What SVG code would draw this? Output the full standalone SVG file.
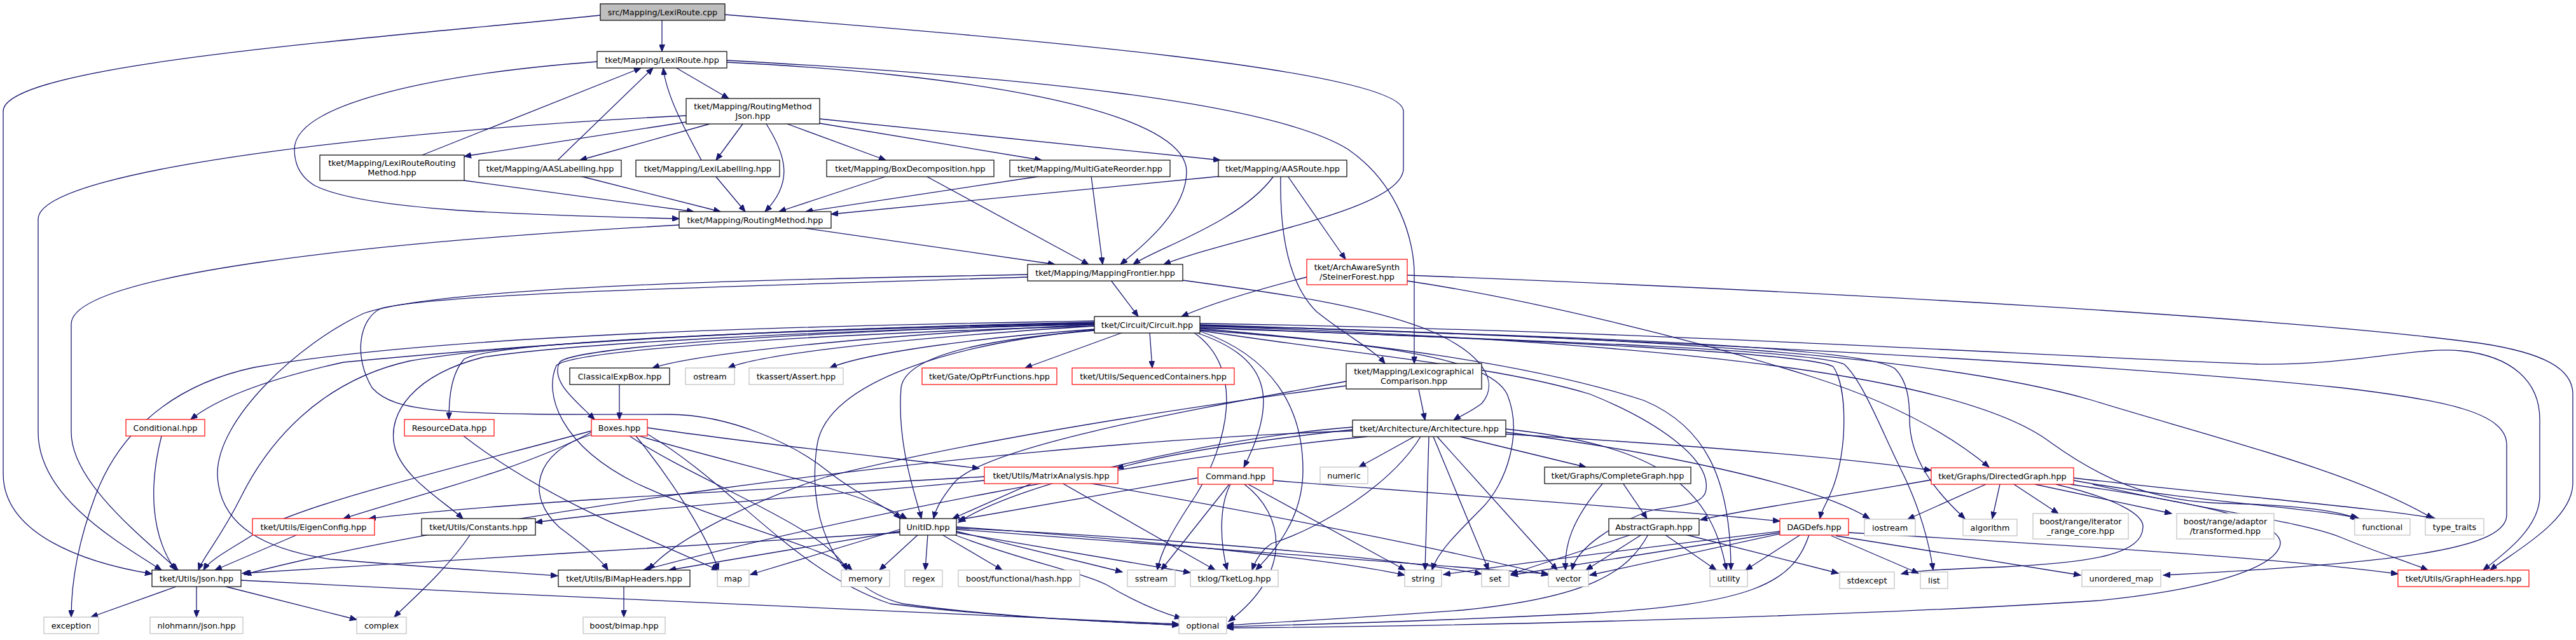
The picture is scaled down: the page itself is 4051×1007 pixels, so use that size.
<svg xmlns="http://www.w3.org/2000/svg" width="4051" height="1007" viewBox="0 0 4051 1007">
<style>
.n rect{fill:#fff;stroke:#000;stroke-width:1.2}
.n.g rect{stroke:#bfbfbf}
.n.r rect{stroke:#f00}
.n.root rect{fill:#bfbfbf}
text{font-family:"DejaVu Sans","Liberation Sans",sans-serif;font-size:12.8px;text-anchor:middle;fill:#000}
#edges path{fill:none;stroke:#191970;stroke-width:1.3;marker-end:url(#a)}
</style>
<defs>
<marker id="a" markerWidth="12" markerHeight="9" refX="11" refY="4.5" orient="auto" markerUnits="userSpaceOnUse"><path d="M0,0 L11,4.5 L0,9 z" fill="#191970" stroke="#191970" stroke-width="1"/></marker>
</defs>
<rect width="4051" height="1007" fill="#fff"/>
<g id="edges">
<path d="M1041,32 L1041,81"/>
<path d="M944,24 C600,60 5,100 5,175 L5,745 C5,840 130,885 239,903"/>
<path d="M1140,23 C1600,60 2207,110 2207,175 L2207,265 C2207,330 1950,370 1830,416"/>
<path d="M1062,106 L1146,155"/>
<path d="M939,97 C700,115 463,160 463,235 C463,262 475,280 495,292 C570,330 800,338 1068,344"/>
<path d="M1143,98 C1500,115 1866,170 1866,270 C1866,330 1800,385 1762,416"/>
<path d="M1143,95 C1600,120 2000,160 2120,235 C2200,290 2224,380 2224,430 L2224,572"/>
<path d="M664,244 L1008,107"/>
<path d="M877,252 L1027,107"/>
<path d="M1103,252 C1075,200 1048,150 1043,107"/>
<path d="M1079,182 C700,200 60,260 60,345 L60,680 C60,780 180,850 254,897"/>
<path d="M1079,192 L730,246"/>
<path d="M1116,195 L912,252"/>
<path d="M1168,195 L1126,252"/>
<path d="M1205,195 C1240,250 1245,290 1203,333"/>
<path d="M1238,195 L1393,252"/>
<path d="M1289,194 L1638,252"/>
<path d="M1289,187 L1919,252"/>
<path d="M730,284 L1091,333"/>
<path d="M912,277 L1133,333"/>
<path d="M1125,277 L1172,333"/>
<path d="M1395,277 L1225,333"/>
<path d="M1638,277 L1267,333"/>
<path d="M1922,277 L1307,337"/>
<path d="M1266,359 L1659,416"/>
<path d="M1456,277 L1712,416"/>
<path d="M1716,277 L1734,416"/>
<path d="M2003,277 C1950,350 1820,390 1782,416"/>
<path d="M2025,277 L2116,408"/>
<path d="M2014,277 C2012,380 2030,450 2070,490 C2120,530 2160,550 2178,572"/>
<path d="M1068,354 C600,380 112,430 112,510 L112,680 C112,760 230,850 280,897"/>
<path d="M1747,441 L1790,498"/>
<path d="M1860,441 C2000,460 2150,480 2248,520 C2330,555 2360,600 2330,635 C2310,650 2295,655 2286,661"/>
<path d="M1616,432 C1200,440 700,450 572,493 C470,540 340,660 342,747 C345,830 420,865 520,880 C700,895 800,900 877,906"/>
<path d="M1616,436 C1200,450 700,460 600,485 C565,500 555,560 585,610 C620,650 700,653 1050,652 C1150,652 1250,700 1300,740 C1350,780 1400,800 1416,816"/>
<path d="M2055,436 C1960,460 1900,480 1858,498"/>
<path d="M2213,433 C2900,460 3600,500 3900,540 C4000,555 4046,580 4046,620 L4046,760 C4046,820 3950,870 3916,897"/>
<path d="M2213,442 C2400,470 2650,530 2850,593 C2950,625 3050,670 3128,735"/>
<path d="M2231,613 L2241,661"/>
<path d="M2117,600 C1900,640 1550,700 1500,760 C1480,785 1472,800 1468,816"/>
<path d="M2117,607 C1800,650 1500,700 1300,750 C1150,800 1050,860 1020,897"/>
<path d="M1721,511 C1400,525 1100,555 1026,579"/>
<path d="M1721,513 C1450,530 1200,555 1145,579"/>
<path d="M1721,518 C1550,530 1360,555 1305,579"/>
<path d="M1766,523 L1612,579"/>
<path d="M1808,523 L1812,579"/>
<path d="M1721,509 C1300,518 780,535 730,565 C708,590 706,630 706,660"/>
<path d="M1721,510 C1300,520 900,545 880,570 C865,600 905,630 935,660"/>
<path d="M1721,507 C1200,518 850,540 540,570 C450,590 350,620 300,660"/>
<path d="M1721,505 C1300,512 700,525 400,578 C250,610 180,700 150,780 C120,860 112,920 112,971"/>
<path d="M1721,508 C1200,518 800,540 644,568 C500,600 420,700 380,780 C345,850 320,875 312,897"/>
<path d="M1721,510 C1300,520 900,540 760,562 C650,590 610,650 620,700 C630,750 700,790 728,816"/>
<path d="M1721,520 C1600,530 1425,550 1417,610 C1410,700 1440,780 1449,816"/>
<path d="M1721,519 C1500,540 1300,600 1285,700 C1270,800 1300,920 1420,950 C1600,975 1800,980 1854,984"/>
<path d="M1721,513 C1300,525 900,550 875,575 C855,620 880,700 1000,760 C1150,830 1300,860 1340,897"/>
<path d="M1880,523 C1990,560 2015,620 1956,735"/>
<path d="M1877,523 C1960,580 1930,700 1880,780 C1840,840 1825,870 1820,897"/>
<path d="M1887,521 C2000,560 2049,640 2049,740 C2049,820 2000,870 1975,897"/>
<path d="M1887,519 C2150,540 2340,560 2370,620 C2395,680 2370,760 2330,800 C2290,840 2260,870 2252,897"/>
<path d="M1887,517 C2150,540 2400,570 2585,630 C2680,670 2722,750 2722,897"/>
<path d="M1887,520 C2150,560 2350,575 2500,620 C2600,660 2690,720 2683,770 C2680,800 2620,795 2590,805 C2540,825 2480,860 2472,897"/>
<path d="M1887,515 C2400,535 2850,555 2883,577 C2905,610 2905,700 2885,760 C2875,790 2865,800 2862,816"/>
<path d="M1887,516 C2400,535 2850,550 2900,573 C2930,600 2960,680 2990,740 C3020,800 3035,860 3040,897"/>
<path d="M1887,512 C2500,530 2930,545 2980,580 C3000,600 3003,630 3003,660 C3003,720 3040,770 3090,816"/>
<path d="M1887,509 C2600,520 3200,560 3551,573 C3700,575 3800,545 3870,552 C3950,560 3994,600 3994,660 L3994,780 C3994,830 3940,870 3905,897"/>
<path d="M1887,511 C2500,530 3300,570 3681,610 C3850,630 3942,650 3942,700 L3942,810 C3942,860 3800,885 3402,905"/>
<path d="M1887,512 C2600,530 3050,560 3291,630 C3450,680 3700,740 3826,816"/>
<path d="M1887,513 C2700,540 3100,600 3226,697 C3300,750 3380,790 3500,792 C3620,795 3680,805 3707,816"/>
<path d="M930,680 C820,740 650,780 540,816"/>
<path d="M930,678 C700,740 450,800 400,840 C370,860 330,880 320,897"/>
<path d="M930,684 C840,710 825,780 880,830 C920,860 945,880 956,897"/>
<path d="M1018,673 C1200,700 1400,720 1540,737"/>
<path d="M1005,686 C1150,730 1350,770 1426,816"/>
<path d="M990,686 C1100,760 1300,830 1332,897"/>
<path d="M1000,686 C1060,760 1110,840 1130,897"/>
<path d="M1018,683 C1150,760 1250,900 1400,950 C1600,975 1800,980 1854,984"/>
<path d="M974,605 L974,660"/>
<path d="M254,686 C235,760 235,840 276,897"/>
<path d="M729,686 C850,780 1000,840 1130,897"/>
<path d="M466,842 L338,897"/>
<path d="M739,842 C700,900 640,950 620,971"/>
<path d="M277,923 L143,971"/>
<path d="M309,923 L309,971"/>
<path d="M355,923 L561,975"/>
<path d="M379,913 C900,940 1500,970 1854,982"/>
<path d="M981,923 L981,971"/>
<path d="M1415,833 L1180,904"/>
<path d="M1415,836 L1052,897"/>
<path d="M1415,838 C1100,860 700,880 381,902"/>
<path d="M1444,841 L1383,897"/>
<path d="M1459,841 L1455,897"/>
<path d="M1481,841 L1576,897"/>
<path d="M1504,836 L1765,900"/>
<path d="M1504,838 L1872,901"/>
<path d="M1500,841 C1600,880 1700,900 1740,920 C1790,950 1830,965 1858,973"/>
<path d="M1504,829 C1800,850 2100,880 2209,905"/>
<path d="M1504,831 C1900,850 2200,880 2330,903"/>
<path d="M1504,833 C1900,860 2300,890 2435,903"/>
<path d="M1624,760 L1498,816"/>
<path d="M1670,760 L1911,897"/>
<path d="M1548,750 C1200,770 800,790 580,816"/>
<path d="M1548,756 C1300,780 1000,800 842,822"/>
<path d="M1712,760 C2000,810 2300,870 2435,905"/>
<path d="M1883,752 L1507,818"/>
<path d="M1933,762 L1826,897"/>
<path d="M1935,762 C1915,800 1920,860 1930,897"/>
<path d="M1957,762 C2020,810 2035,900 1932,978"/>
<path d="M1963,762 L2210,897"/>
<path d="M2002,756 C2300,780 2600,800 2799,820"/>
<path d="M2224,687 L2137,735"/>
<path d="M2296,687 L2494,735"/>
<path d="M2247,687 L2241,897"/>
<path d="M2254,687 L2341,897"/>
<path d="M2260,687 L2449,897"/>
<path d="M2127,672 C1900,690 1600,760 1507,822"/>
<path d="M2127,676 C2000,690 1850,710 1756,737"/>
<path d="M2127,678 C1500,700 700,820 384,904"/>
<path d="M2150,687 C1800,720 1300,820 1012,897"/>
<path d="M2234,687 C2190,760 2080,830 2000,855 C1985,865 1975,880 1969,897"/>
<path d="M2368,675 C2600,700 2690,760 2715,897"/>
<path d="M2368,680 C2600,710 2850,760 2940,816"/>
<path d="M2368,683 C2650,700 2900,720 3037,740"/>
<path d="M2552,760 L2590,816"/>
<path d="M2521,760 C2470,820 2460,860 2462,897"/>
<path d="M2566,841 L2376,903"/>
<path d="M2582,841 L2494,897"/>
<path d="M2618,841 L2699,897"/>
<path d="M2650,841 L2891,902"/>
<path d="M2592,841 C2560,900 2500,940 2300,960 C2100,975 1950,982 1929,984"/>
<path d="M2799,836 C2600,860 2400,885 2270,904"/>
<path d="M2799,838 L2376,905"/>
<path d="M2799,840 L2500,905"/>
<path d="M2832,841 L2745,897"/>
<path d="M2845,841 C2820,920 2750,950 2500,965 C2200,980 2000,984 1929,986"/>
<path d="M2880,843 L3017,902"/>
<path d="M2907,838 C3300,860 3600,880 3771,903"/>
<path d="M2887,843 C3050,870 3180,890 3272,905"/>
<path d="M3145,762 L3133,816"/>
<path d="M3167,762 L3237,808"/>
<path d="M3200,762 L3415,808"/>
<path d="M3261,756 C3450,790 3650,800 3710,816"/>
<path d="M3261,752 C3500,780 3750,800 3830,816"/>
<path d="M3291,762 C3450,800 3620,820 3680,845 C3740,870 3790,885 3818,897"/>
<path d="M3233,762 C3330,785 3372,810 3370,830 C3368,870 3300,885 3150,892 C3050,896 3010,898 2990,903"/>
<path d="M3255,762 C3450,790 3600,820 3585,860 C3570,900 3450,930 3300,945 C3000,965 2400,985 1929,988"/>
<path d="M3123,762 L3000,817"/>
<path d="M3037,755 C2900,780 2750,800 2674,818"/>
</g>
<g id="n1" class="n root"><rect x="944" y="6" width="196" height="26"/><text x="1042" y="23.5">src/Mapping/LexiRoute.cpp</text></g>
<g id="n2" class="n"><rect x="939" y="81" width="204" height="26"/><text x="1041" y="98.5">tket/Mapping/LexiRoute.hpp</text></g>
<g id="n3" class="n"><rect x="1079" y="155" width="210" height="40"/><text x="1184" y="171.5">tket/Mapping/RoutingMethod</text><text x="1184" y="186.5">Json.hpp</text></g>
<g id="n4" class="n"><rect x="503" y="244" width="227" height="40"/><text x="616.5" y="260.5">tket/Mapping/LexiRouteRouting</text><text x="616.5" y="275.5">Method.hpp</text></g>
<g id="n5" class="n"><rect x="753" y="252" width="224" height="26"/><text x="865" y="269.5">tket/Mapping/AASLabelling.hpp</text></g>
<g id="n6" class="n"><rect x="1000" y="252" width="226" height="26"/><text x="1113" y="269.5">tket/Mapping/LexiLabelling.hpp</text></g>
<g id="n7" class="n"><rect x="1300" y="252" width="263" height="26"/><text x="1431.5" y="269.5">tket/Mapping/BoxDecomposition.hpp</text></g>
<g id="n8" class="n"><rect x="1588" y="252" width="252" height="26"/><text x="1714" y="269.5">tket/Mapping/MultiGateReorder.hpp</text></g>
<g id="n9" class="n"><rect x="1916" y="252" width="202" height="26"/><text x="2017" y="269.5">tket/Mapping/AASRoute.hpp</text></g>
<g id="n10" class="n"><rect x="1068" y="333" width="239" height="26"/><text x="1187.5" y="350.5">tket/Mapping/RoutingMethod.hpp</text></g>
<g id="n11" class="n"><rect x="1616" y="416" width="244" height="26"/><text x="1738" y="433.5">tket/Mapping/MappingFrontier.hpp</text></g>
<g id="n12" class="n r"><rect x="2055" y="408" width="158" height="40"/><text x="2134" y="424.5">tket/ArchAwareSynth</text><text x="2134" y="439.5">/SteinerForest.hpp</text></g>
<g id="n13" class="n"><rect x="1721" y="498" width="166" height="26"/><text x="1804" y="515.5">tket/Circuit/Circuit.hpp</text></g>
<g id="n14" class="n"><rect x="896" y="579" width="157" height="26"/><text x="974.5" y="596.5">ClassicalExpBox.hpp</text></g>
<g id="n15" class="n g"><rect x="1078" y="579" width="77" height="26"/><text x="1116.5" y="596.5">ostream</text></g>
<g id="n16" class="n g"><rect x="1178" y="579" width="148" height="26"/><text x="1252" y="596.5">tkassert/Assert.hpp</text></g>
<g id="n17" class="n r"><rect x="1450" y="579" width="212" height="26"/><text x="1556" y="596.5">tket/Gate/OpPtrFunctions.hpp</text></g>
<g id="n18" class="n r"><rect x="1686" y="579" width="255" height="26"/><text x="1813.5" y="596.5">tket/Utils/SequencedContainers.hpp</text></g>
<g id="n19" class="n"><rect x="2117" y="572" width="213" height="40"/><text x="2223.5" y="588.5">tket/Mapping/Lexicographical</text><text x="2223.5" y="603.5">Comparison.hpp</text></g>
<g id="n20" class="n r"><rect x="198" y="660" width="124" height="26"/><text x="260" y="677.5">Conditional.hpp</text></g>
<g id="n21" class="n r"><rect x="636" y="660" width="141" height="26"/><text x="706.5" y="677.5">ResourceData.hpp</text></g>
<g id="n22" class="n r"><rect x="930" y="660" width="88" height="26"/><text x="974" y="677.5">Boxes.hpp</text></g>
<g id="n23" class="n"><rect x="2127" y="661" width="241" height="26"/><text x="2247.5" y="678.5">tket/Architecture/Architecture.hpp</text></g>
<g id="n24" class="n g"><rect x="2076" y="735" width="75" height="26"/><text x="2113.5" y="752.5">numeric</text></g>
<g id="n25" class="n"><rect x="2429" y="735" width="230" height="26"/><text x="2544" y="752.5">tket/Graphs/CompleteGraph.hpp</text></g>
<g id="n26" class="n r"><rect x="3037" y="736" width="224" height="26"/><text x="3149" y="753.5">tket/Graphs/DirectedGraph.hpp</text></g>
<g id="n27" class="n r"><rect x="1548" y="735" width="210" height="26"/><text x="1653" y="752.5">tket/Utils/MatrixAnalysis.hpp</text></g>
<g id="n28" class="n r"><rect x="1884" y="736" width="118" height="26"/><text x="1943" y="753.5">Command.hpp</text></g>
<g id="n29" class="n r"><rect x="397" y="816" width="192" height="26"/><text x="493" y="833.5">tket/Utils/EigenConfig.hpp</text></g>
<g id="n30" class="n"><rect x="663" y="816" width="179" height="26"/><text x="752.5" y="833.5">tket/Utils/Constants.hpp</text></g>
<g id="n31" class="n"><rect x="1415" y="816" width="89" height="26"/><text x="1459.5" y="833.5">UnitID.hpp</text></g>
<g id="n32" class="n"><rect x="2530" y="816" width="142" height="26"/><text x="2601" y="833.5">AbstractGraph.hpp</text></g>
<g id="n33" class="n r"><rect x="2799" y="816" width="108" height="26"/><text x="2853" y="833.5">DAGDefs.hpp</text></g>
<g id="n34" class="n g"><rect x="2932" y="817" width="80" height="26"/><text x="2972" y="834.5">iostream</text></g>
<g id="n35" class="n g"><rect x="3087" y="817" width="85" height="26"/><text x="3129.5" y="834.5">algorithm</text></g>
<g id="n36" class="n g"><rect x="3197" y="808" width="150" height="40"/><text x="3272" y="824.5">boost/range/iterator</text><text x="3272" y="839.5">_range_core.hpp</text></g>
<g id="n37" class="n g"><rect x="3423" y="808" width="153" height="40"/><text x="3499.5" y="824.5">boost/range/adaptor</text><text x="3499.5" y="839.5">/transformed.hpp</text></g>
<g id="n38" class="n g"><rect x="3703" y="816" width="87" height="26"/><text x="3746.5" y="833.5">functional</text></g>
<g id="n39" class="n g"><rect x="3814" y="816" width="92" height="26"/><text x="3860" y="833.5">type_traits</text></g>
<g id="n40" class="n"><rect x="239" y="897" width="140" height="26"/><text x="309" y="914.5">tket/Utils/Json.hpp</text></g>
<g id="n41" class="n"><rect x="878" y="897" width="207" height="26"/><text x="981.5" y="914.5">tket/Utils/BiMapHeaders.hpp</text></g>
<g id="n42" class="n g"><rect x="1128" y="897" width="50" height="26"/><text x="1153" y="914.5">map</text></g>
<g id="n43" class="n g"><rect x="1323" y="897" width="76" height="26"/><text x="1361" y="914.5">memory</text></g>
<g id="n44" class="n g"><rect x="1423" y="897" width="59" height="26"/><text x="1452.5" y="914.5">regex</text></g>
<g id="n45" class="n g"><rect x="1507" y="897" width="191" height="26"/><text x="1602.5" y="914.5">boost/functional/hash.hpp</text></g>
<g id="n46" class="n g"><rect x="1773" y="897" width="75" height="26"/><text x="1810.5" y="914.5">sstream</text></g>
<g id="n47" class="n g"><rect x="1872" y="897" width="138" height="26"/><text x="1941" y="914.5">tklog/TketLog.hpp</text></g>
<g id="n48" class="n g"><rect x="2209" y="897" width="58" height="26"/><text x="2238" y="914.5">string</text></g>
<g id="n49" class="n g"><rect x="2330" y="897" width="43" height="26"/><text x="2351.5" y="914.5">set</text></g>
<g id="n50" class="n g"><rect x="2435" y="897" width="63" height="26"/><text x="2466.5" y="914.5">vector</text></g>
<g id="n51" class="n g"><rect x="2689" y="897" width="59" height="26"/><text x="2718.5" y="914.5">utility</text></g>
<g id="n52" class="n g"><rect x="2893" y="900" width="86" height="26"/><text x="2936" y="917.5">stdexcept</text></g>
<g id="n53" class="n g"><rect x="3020" y="900" width="43" height="26"/><text x="3041.5" y="917.5">list</text></g>
<g id="n54" class="n g"><rect x="3274" y="897" width="124" height="26"/><text x="3336" y="914.5">unordered_map</text></g>
<g id="n55" class="n r"><rect x="3771" y="897" width="206" height="26"/><text x="3874" y="914.5">tket/Utils/GraphHeaders.hpp</text></g>
<g id="n56" class="n g"><rect x="69" y="971" width="86" height="26"/><text x="112" y="988.5">exception</text></g>
<g id="n57" class="n g"><rect x="236" y="971" width="146" height="26"/><text x="309" y="988.5">nlohmann/json.hpp</text></g>
<g id="n58" class="n g"><rect x="561" y="971" width="78" height="26"/><text x="600" y="988.5">complex</text></g>
<g id="n59" class="n g"><rect x="917" y="971" width="129" height="26"/><text x="981.5" y="988.5">boost/bimap.hpp</text></g>
<g id="n60" class="n g"><rect x="1854" y="971" width="75" height="26"/><text x="1891.5" y="988.5">optional</text></g>
</svg>
